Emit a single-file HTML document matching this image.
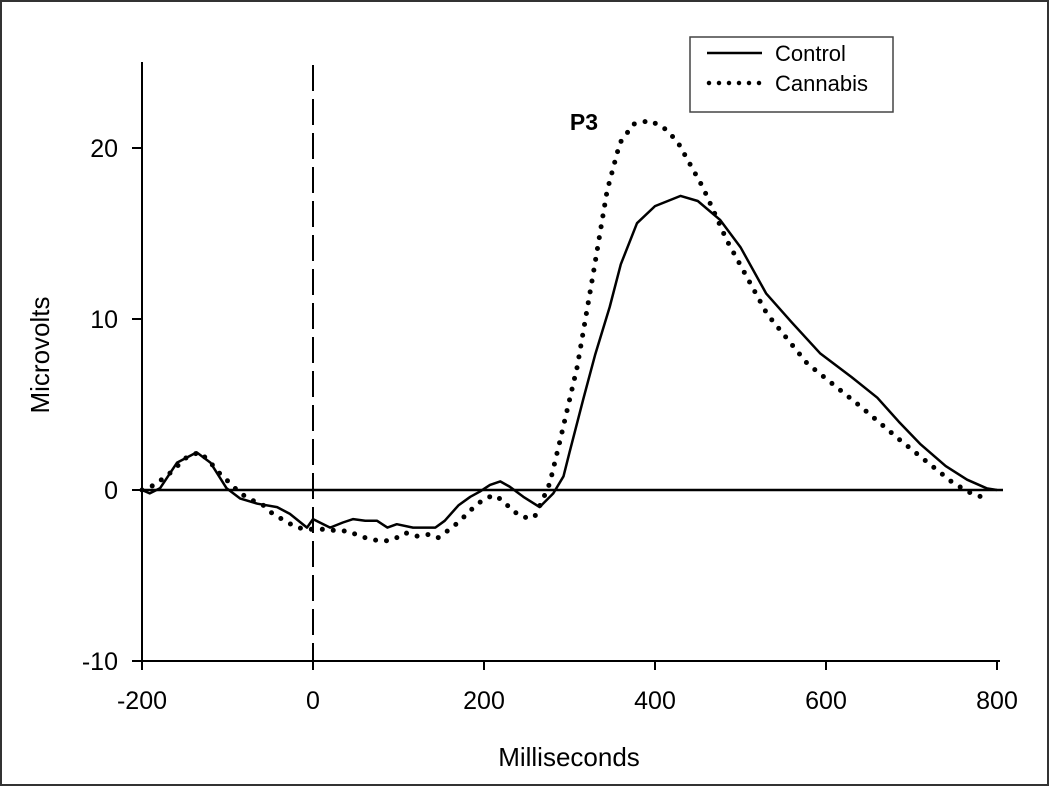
<!DOCTYPE html>
<html><head><meta charset="utf-8"><style>
html,body{margin:0;padding:0;background:#fff}
svg{display:block;font-family:"Liberation Sans",Arial,sans-serif}
</style></head><body>
<svg id="chart" width="1050" height="787" viewBox="0 0 1050 787">
<rect x="1" y="1" width="1047" height="784" fill="#fff" stroke="#333" stroke-width="2"/>
<g id="axes"></g>
<g id="series"></g>
<text x="584" y="130" font-size="23" font-weight="bold" text-anchor="middle">P3</text>
<g>
<rect x="690" y="37" width="203" height="75" fill="#fff" stroke="#444" stroke-width="1.5"/>
<line x1="707" y1="53" x2="762" y2="53" stroke="#000" stroke-width="2.5"/>
<text x="775" y="61" font-size="22">Control</text>
<line x1="709" y1="83" x2="760" y2="83" stroke="#000" stroke-width="4.5" stroke-linecap="round" stroke-dasharray="0 10"/>
<text x="775" y="91" font-size="22">Cannabis</text>
</g>
<text x="569" y="766" font-size="26" text-anchor="middle">Milliseconds</text>
<text transform="translate(49,355) rotate(-90)" font-size="26" text-anchor="middle">Microvolts</text>
</svg>
<script>
const xTicks = [-200, 0, 200, 400, 600, 800];
const yTicks = [-10, 0, 10, 20];
const controlX = [-200,-191,-179,-159,-136,-120,-101,-85,-65,-42,-27,-7,0,20,35,47,61,75,87,98,117,129,143,154,170,184,195,207,219,230,246,265,281,293,300,316,330,347,360,379,400,430,450,476,500,530,560,593,630,660,685,710,740,765,788,800];
const controlY = [0,-0.2,0.1,1.6,2.2,1.6,0.1,-0.5,-0.8,-1.0,-1.4,-2.2,-1.7,-2.2,-1.9,-1.7,-1.8,-1.8,-2.2,-2.0,-2.2,-2.2,-2.2,-1.8,-0.9,-0.4,-0.1,0.3,0.5,0.2,-0.4,-1.0,-0.2,0.8,2.2,5.3,7.9,10.7,13.2,15.6,16.6,17.2,16.9,15.8,14.2,11.5,9.8,8.0,6.6,5.4,4.0,2.7,1.4,0.6,0.1,0];
const cannabisX = [-200,-185,-167,-146,-132,-120,-108,-97,-85,-71,-58,-47,-33,-19,-4,16,29,41,55,69,82,94,108,121,135,146,160,172,184,198,211,222,233,246,259,271,277,289,309,328,344,359,375,394,410,426,456,484,531,578,640,687,749,770,788];
const cannabisY = [0,0.3,1.0,2.0,2.2,1.6,0.9,0.4,-0.2,-0.6,-0.9,-1.4,-1.8,-2.2,-2.3,-2.3,-2.4,-2.4,-2.7,-2.9,-3.0,-2.9,-2.5,-2.7,-2.6,-2.8,-2.3,-1.8,-1.2,-0.6,-0.3,-0.6,-1.2,-1.6,-1.6,-0.3,0.4,2.9,7.2,12.7,17.5,20.3,21.4,21.6,21.2,20.4,17.7,14.6,10.3,7.4,4.9,2.9,0.4,-0.2,-0.5];

const NS='http://www.w3.org/2000/svg';
const sx = v => 313 + (v/200)*171;
const sy = v => 490 - v*17.1;
const axes = document.getElementById('axes');
const series = document.getElementById('series');
function mk(tag, attrs, parent){const e=document.createElementNS(NS,tag);for(const k in attrs)e.setAttribute(k,attrs[k]);parent.appendChild(e);return e;}

let l = mk('line',{x1:142,y1:62,x2:142,y2:sy(-10),stroke:'#000','stroke-width':2},axes);


l = mk('line',{x1:132,y1:sy(-10),x2:1000,y2:sy(-10),stroke:'#000','stroke-width':2},axes);


l = mk('line',{x1:142,y1:sy(0),x2:1003,y2:sy(0),stroke:'#000','stroke-width':2.5},axes);


l = mk('line',{x1:sx(0),y1:65,x2:sx(0),y2:sy(-10)+8,stroke:'#000','stroke-width':2,'stroke-dasharray':'26 8'},axes);



xTicks.forEach(v=>{
  const t = mk('line',{x1:sx(v),y1:sy(-10),x2:sx(v),y2:sy(-10)+9,stroke:'#000','stroke-width':2},axes);
  
  
  const tx = mk('text',{x:sx(v),y:sy(-10)+48,'font-size':25,'text-anchor':'middle'},axes);
  tx.textContent = v;
  
  
});
yTicks.forEach(v=>{
  const t = mk('line',{x1:132,y1:sy(v),x2:142,y2:sy(v),stroke:'#000','stroke-width':2},axes);
  
  
  const tx = mk('text',{x:118,y:sy(v)+9,'font-size':25,'text-anchor':'end'},axes);
  tx.textContent = v;
  
  
});

function pathD(xs, ys){return xs.map((x,i)=>(i?'L':'M')+sx(x).toFixed(1)+','+sy(ys[i]).toFixed(1)).join(' ');}
const pc = mk('path',{d:pathD(controlX,controlY),fill:'none',stroke:'#000','stroke-width':2.5,'stroke-linejoin':'round'},series);


const pk = mk('path',{d:pathD(cannabisX,cannabisY),fill:'none',stroke:'#000','stroke-width':5,'stroke-linecap':'round','stroke-dasharray':'0 11'},series);


</script>
</body></html>
